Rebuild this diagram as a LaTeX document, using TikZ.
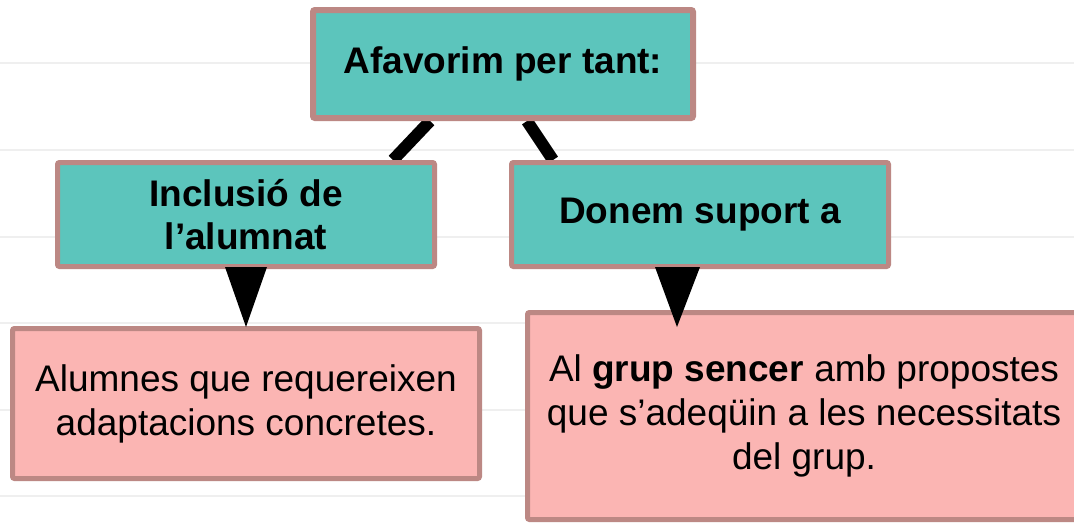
\documentclass[tikz,border=0pt]{standalone}
\usepackage{fontspec}
\setmainfont{Liberation Sans}
\usetikzlibrary{calc,backgrounds}
\definecolor{tealfill}{HTML}{5CC5BC}
\definecolor{roseline}{HTML}{BC8884}
\definecolor{pinkfill}{HTML}{FBB5B3}
\definecolor{gridc}{HTML}{EFEFEF}
\begin{document}
\begin{tikzpicture}[x=1pt,y=-1pt,
  box/.style={draw=roseline, rounded corners=2pt, align=center, inner sep=0pt, line width=5pt},
  tealbox/.style={box, fill=tealfill, font=\fontsize{37}{43}\selectfont\bfseries},
  pinkbox/.style={box, fill=pinkfill, font=\fontsize{37}{44}\selectfont},
  gridline/.style={draw=gridc, line width=2pt},
  link/.style={draw=black, line width=12pt},
  tri/.style={fill=black}]
\useasboundingbox (0,0) rectangle (1074,525);
% nodes
\node[tealbox, line width=6pt, minimum width=380pt, minimum height=108pt] (top) at (503,64) {Afavorim per tant:};
\node[tealbox, minimum width=377pt, minimum height=104pt] (lt) at (246,214.5) {Inclusió de\\l’alumnat};
\node[tealbox, minimum width=377pt, minimum height=104pt] (rt) at (700,214.5) {Donem suport a};
\node[pinkbox, minimum width=467pt, minimum height=150pt] (lp) at (246,403.5) {Alumnes que requereixen\\adaptacions concretes.};
\node[pinkbox, minimum width=553pt, minimum height=207pt] (rp) at (804,416) {Al \textbf{grup sencer} amb propostes\\que s’adeqüin a les necessitats\\del grup.};
% background: grid and links
\begin{scope}[on background layer]
  \fill[white] (0,0) rectangle (1074,525);
  \foreach \yy in {63,150,237,323,410,496} \path[gridline] (0,\yy) -- (1074,\yy);
  \path[link] ([xshift=-73pt]top.south) -- ([xshift=147pt]lt.north);
  \path[link] ([xshift=24pt]top.south) -- ([xshift=-147pt]rt.north);
\end{scope}
% arrowheads
\fill[tri] ([xshift=-21pt,yshift=2pt]lt.south) -- ([xshift=21pt,yshift=2pt]lt.south) -- ($(lt.south)+(0,58)$) -- cycle;
\fill[tri] ([xshift=-45pt,yshift=2pt]rt.south) -- ([xshift=0pt,yshift=2pt]rt.south) -- ($(rt.south)+(-23,58)$) -- cycle;
\end{tikzpicture}
\end{document}
